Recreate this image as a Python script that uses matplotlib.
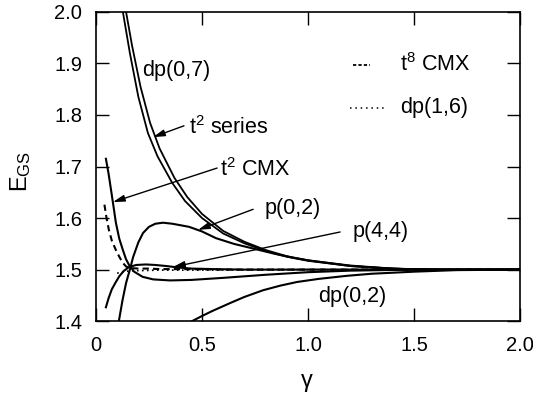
import matplotlib
matplotlib.use('Agg')
import matplotlib.pyplot as plt

plt.rcParams['font.family'] = ['Liberation Sans', 'DejaVu Sans']
plt.rcParams['mathtext.fontset'] = 'custom'
plt.rcParams['mathtext.rm'] = 'Liberation Sans'
plt.rcParams['mathtext.it'] = 'Liberation Sans:italic'

# dp(0,7) and t^2 series (the two close curves at top)
dp07_x = [0.127, 0.16, 0.2, 0.245, 0.29, 0.36, 0.42, 0.5, 0.6, 0.7, 0.8, 0.9, 1.0, 1.2, 1.4, 1.6, 1.8, 2.0]
dp07_y = [2.0, 1.92, 1.835, 1.765, 1.72, 1.668, 1.633, 1.600, 1.570, 1.551, 1.536, 1.525, 1.517, 1.507, 1.502, 1.500, 1.500, 1.500]
t2s_x = [0.142, 0.17, 0.21, 0.255, 0.3, 0.37, 0.43, 0.5, 0.6, 0.7, 0.8, 0.9, 1.0, 1.2, 1.4, 1.6, 1.8, 2.0]
t2s_y = [2.0, 1.935, 1.855, 1.785, 1.735, 1.678, 1.641, 1.608, 1.575, 1.554, 1.538, 1.526, 1.518, 1.508, 1.502, 1.500, 1.500, 1.500]

# p(0,2)
p02_x = [0.108, 0.125, 0.142, 0.16, 0.175, 0.2, 0.222, 0.25, 0.28, 0.316, 0.36, 0.439, 0.5, 0.566,
         0.65, 0.75, 0.85, 0.93, 1.0, 1.09, 1.2, 1.3, 1.45, 1.6, 1.8, 2.0]
p02_y = [1.40, 1.44, 1.474, 1.50, 1.524, 1.553, 1.571, 1.583, 1.589, 1.591, 1.589, 1.583, 1.574, 1.561,
         1.550, 1.540, 1.530, 1.523, 1.518, 1.513, 1.507, 1.504, 1.501, 1.500, 1.500, 1.500]

# t^2 CMX
t2c_x = [0.047, 0.06, 0.071, 0.083, 0.094, 0.11, 0.127, 0.142, 0.156, 0.18, 0.22, 0.27, 0.35, 0.45,
         0.6, 0.8, 1.0, 1.2, 1.5, 2.0]
t2c_y = [1.715, 1.685, 1.655, 1.622, 1.591, 1.560, 1.538, 1.520, 1.509, 1.496, 1.486, 1.481, 1.479, 1.480,
         1.484, 1.490, 1.495, 1.498, 1.500, 1.500]

# t^8 CMX (dashed)
t8c_x = [0.04, 0.05, 0.061, 0.075, 0.094, 0.11, 0.125, 0.142, 0.16, 0.2, 0.25, 0.3, 0.4, 0.6, 0.8, 1.0, 1.5, 2.0]
t8c_y = [1.626, 1.600, 1.577, 1.556, 1.538, 1.525, 1.514, 1.506, 1.503, 1.502, 1.502, 1.501, 1.501,
         1.500, 1.500, 1.500, 1.500, 1.500]

# dp(1,6) (dotted)
dp16_x = [0.1, 0.12, 0.15, 0.2, 0.3, 0.5, 0.8, 1.2, 2.0]
dp16_y = [1.493, 1.495, 1.497, 1.498, 1.499, 1.499, 1.500, 1.500, 1.500]

# p(4,4)
p44_x = [0.047, 0.06, 0.075, 0.094, 0.11, 0.13, 0.156, 0.19, 0.236, 0.28, 0.33, 0.39, 0.45, 0.55,
         0.7, 0.9, 1.2, 1.6, 2.0]
p44_y = [1.427, 1.445, 1.462, 1.476, 1.487, 1.497, 1.505, 1.509, 1.510, 1.509, 1.507, 1.504, 1.502,
         1.501, 1.500, 1.500, 1.500, 1.500, 1.500]

# dp(0,2)
dp02_x = [0.453, 0.5, 0.55, 0.632, 0.7, 0.788, 0.87, 0.948, 1.05, 1.184, 1.3, 1.5, 1.7, 2.0]
dp02_y = [1.40, 1.410, 1.420, 1.435, 1.447, 1.460, 1.469, 1.476, 1.482, 1.488, 1.492, 1.496, 1.499, 1.500]

xticks = [0, 0.5, 1.0, 1.5, 2.0]
xticklabels = ['0', '0.5', '1.0', '1.5', '2.0']
yticks = [1.4, 1.5, 1.6, 1.7, 1.8, 1.9, 2.0]

fig = plt.figure(figsize=(5.33, 3.96), dpi=100)
ax = fig.add_axes([0.180, 0.189, 0.796, 0.781])

lw = 1.5
ax.plot(dp07_x, dp07_y, color='k', lw=1.3)
ax.plot(t2s_x, t2s_y, color='k', lw=1.3)
ax.plot(p02_x, p02_y, color='k', lw=lw)
ax.plot(t2c_x, t2c_y, color='k', lw=lw)
ax.plot(t8c_x, t8c_y, color='k', lw=lw, ls=(0, (3, 2)))
ax.plot(dp16_x, dp16_y, color='k', lw=1.2, ls=(0, (1, 2)))
ax.plot(p44_x, p44_y, color='k', lw=lw)
ax.plot(dp02_x, dp02_y, color='k', lw=lw)

ax.set_xlim(0, 2.0)
ax.set_ylim(1.4, 2.0)
ax.set_xticks(xticks)
ax.set_xticklabels(xticklabels)
ax.set_yticks(yticks)
ax.tick_params(direction='in', length=9.5, width=1, top=True, right=True, labelsize=14.5)
ax.tick_params(axis='y', pad=10)
ax.tick_params(axis='x', pad=11)
for s in ax.spines.values():
    s.set_linewidth(1.2)

fs = 15.5
arrow = dict(arrowstyle='-|>,head_length=0.7,head_width=0.2', color='k', lw=1, mutation_scale=10,
             shrinkA=0, shrinkB=0)

ax.text(0.22, 1.887, 'dp(0,7)', fontsize=fs, va='center', ha='left')
ax.text(0.44, 1.775, 't$^{2}$ series', fontsize=fs, va='center', ha='left')
ax.annotate('', xy=(0.269, 1.757), xytext=(0.415, 1.779), arrowprops=arrow)
ax.text(0.585, 1.695, 't$^{2}$ CMX', fontsize=fs, va='center', ha='left')
ax.annotate('', xy=(0.080, 1.631), xytext=(0.571, 1.697), arrowprops=arrow)
ax.text(0.797, 1.619, 'p(0,2)', fontsize=fs, va='center', ha='left')
ax.annotate('', xy=(0.481, 1.577), xytext=(0.741, 1.617), arrowprops=arrow)
ax.text(1.208, 1.573, 'p(4,4)', fontsize=fs, va='center', ha='left')
ax.annotate('', xy=(0.363, 1.505), xytext=(1.151, 1.573), arrowprops=arrow)
ax.text(1.047, 1.447, 'dp(0,2)', fontsize=fs, va='center', ha='left')

# legend-like keys
ax.plot([1.212, 1.292], [1.897, 1.897], color='k', lw=1.3, ls=(0, (1.8, 1.2)))
ax.text(1.434, 1.897, 't$^{8}$ CMX', fontsize=fs, va='center', ha='left')
ax.plot([1.198, 1.362], [1.814, 1.814], color='k', lw=1.1, ls=(0, (1, 2.5)))
ax.text(1.434, 1.814, 'dp(1,6)', fontsize=fs, va='center', ha='left')

fig.text(21 / 533, 1 - 171 / 396, 'E$_{\\mathregular{GS}}$', rotation=90, fontsize=17,
         ha='center', va='center')
fig.text(307 / 533, 1 - 381 / 396, '\u03b3', fontsize=17, ha='center', va='center')

fig.savefig('out.png', dpi=100)
